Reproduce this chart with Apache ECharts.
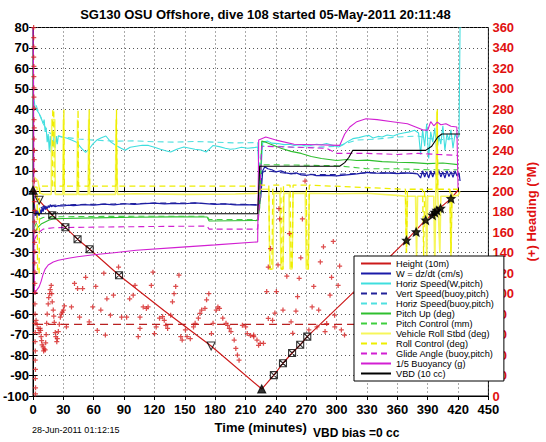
<!DOCTYPE html>
<html><head><meta charset="utf-8">
<script src="https://cdn.jsdelivr.net/npm/echarts@6/dist/echarts.min.js"></script>
<style>html,body{margin:0;padding:0;background:#fff}#c{width:546px;height:442px}</style>
</head><body><div id="c"></div>
<script>
const titleText = 'SG130 OSU Offshore, dive 108 started 05-May-2011 20:11:48';
const stampText = '28-Jun-2011 01:12:15';
const biasText = 'VBD bias =0 cc';
const legendNames = ['Height (10m)','W = dz/dt (cm/s)','Horiz Speed(W,pitch)','Vert Speed(buoy,pitch)','Horiz Speed(buoy,pitch)','Pitch Up (deg)','Pitch Control (mm)','Vehicle Roll Stbd (deg)','Roll Control (deg)','Glide Angle (buoy,pitch)','1/5 Buoyancy (g)','VBD (10 cc)'];

// [time (min), value]
const height10m = [[0,0],[6,-4.4],[19,-11.7],[32,-17.6],[44,-23.4],[56,-28.3],[85,-41],[130,-58.5],[176,-75.6],[226,-96.6],[238,-89.8],[247,-84],[256,-79],[264,-75],[271,-71],[330,-43],[369,-24],[388,-14],[413,-3.6],[420,0.5]];
const markFilledTri = [[0,0.5],[226,-96.6]];
const markOpenTri = [[6,-4.4],[176,-75.6]];
const markCrossBox = [[19,-11.7],[32,-17.6],[44,-23.4],[56,-28.3],[85,-41],[238,-89.8],[247,-84],[256,-79],[264,-75],[271,-71]];
const markStar = [[369,-24],[378.6,-19.9],[388,-14.1],[394.7,-11.7],[397,-10.4],[399,-9.4],[402.7,-8.4],[413,-3.6]];

const wSpeed = [[0,0],[1,-3],[2,-12],[3,-9],[4,-13],[5,-10],[6,-12],[7,-9],[8,-11],[9,-8],[10,-10],[11,-7],[12,-9],[13,-7.5],[14,-8.5],[15,-7],[16,-8],[17,-6.5],[18,-7.5],[20,-7],[22,-7.5],[25,-7],[30,-7.2],[35,-6.8],[40,-7],[50,-6.5],[60,-6.8],[70,-6.3],[80,-6.6],[90,-6.1],[100,-6.4],[110,-6],[120,-5.8],[130,-6.2],[140,-5.9],[150,-6.1],[160,-5.7],[170,-6],[180,-6.4],[190,-6.2],[200,-6.6],[210,-6.5],[220,-6.8],[223,-6.5],[225,-3],[227,10],[229,12],[232,11],[236,10.5],[240,9.5],[245,10],[250,9],[255,8.5],[260,9],[265,8],[270,7.8],[275,8.2],[280,7.6],[290,7.8],[300,7.5],[310,8],[320,8.5],[330,9.2],[340,8.8],[350,9],[360,8.6],[370,9],[380,8.5],[383,6.5],[385,10],[387,7],[389,9.5],[391,6.5],[393,10],[395,7],[397,9.8],[399,6.8],[401,10.2],[403,7],[405,9.5],[407,6.5],[409,10],[411,7.2],[413,9.6],[415,6.8],[417,10],[419,7.5],[421,9],[422,5]];
const horizSpeedW = [[1,45],[2,41],[4,39.5],[6,38],[8,36],[10,33],[11,35],[12,29],[13,31],[14,24],[15,28],[16,20],[17,27],[18,19],[19,25],[20,22],[21,28],[22,21],[23,27],[24,23],[25,27],[28,26.5],[33,26],[38,25],[43,24],[48,21],[52,19],[56,21],[59,23],[63,25],[67,26],[72,27],[77,24],[82,22.4],[87,21],[91,20],[96,21.5],[102,22],[108,22.5],[114,22.4],[120,21.5],[126,20.5],[131,19.8],[136,19.2],[142,20.5],[149,21.6],[155,21],[160,20.5],[166,20.2],[171,19.2],[175,21],[178,22.4],[184,21.8],[190,21],[195,20.5],[200,20.8],[206,21.5],[212,21],[218,21.3],[222,21.6],[223.5,8],[224.5,-3],[225.5,12],[227,24],[232,24.5],[236,23.5],[242,23.3],[248,22.8],[254,23],[258,22.4],[264,22.8],[270,22.1],[274,22.4],[280,23],[285,22.7],[290,23.3],[296,22.5],[302,21.6],[306,22.6],[310,24],[316,25.7],[322,26.2],[328,27],[332,27.3],[336,26],[341,26.8],[345,26.5],[350,27.5],[356,27],[361,28],[366,28.5],[372,29],[377,29.8],[381,28.5],[383,18],[385,30],[387,22],[389,33],[391,16],[393,29],[395,24],[397,31],[399,19],[401,27],[403,23],[405,32],[407,20],[409,28],[411,25],[413,30],[415,21],[417,28],[419,26],[421,27],[422,82]];
const vertSpeedBuoy = [[2,-12],[5,-9],[10,-7.5],[20,-6.8],[40,-6.5],[80,-6.2],[120,-5.8],[160,-5.8],[200,-6.3],[224,-6.5],[226,9],[230,10],[250,8.8],[280,8.2],[300,8.2],[330,9],[360,9],[390,8.6],[420,8.8]];
const horizSpeedBuoy = [[3,42],[6,38],[10,33],[15,29],[20,27.5],[30,26.5],[45,25.5],[60,25],[80,24.5],[100,24.6],[120,24.2],[140,24],[160,24.3],[180,24],[200,23.6],[222,23.8],[224,10],[226,22],[240,22],[260,21.5],[280,21.5],[300,22],[320,25],[340,25.5],[360,26.5],[380,27],[400,25],[420,26]];
const pitchUp = [[0,0],[1,-20],[3,-19],[5,-17.5],[8,-16],[12,-15],[16,-14],[20,-13.5],[30,-13.3],[60,-13],[100,-12.7],[140,-12.5],[172,-12.6],[174,-14.5],[222,-14.3],[224,-8],[226,24.5],[230,24],[235,23],[245,21],[255,19.5],[265,18.5],[275,17],[285,16],[300,15],[310,15.5],[320,15],[330,15.2],[345,14.5],[360,14.2],[375,14],[390,13.5],[405,13.8],[420,13]];
const pitchControl = [[1,-18],[5,-14],[10,-12.8],[20,-12.5],[60,-12.3],[120,-12.2],[172,-12.2],[174,-13.8],[222,-13.8],[224,13],[260,12.8],[300,12.5],[330,11],[360,11],[390,10.5],[420,10.5]];
const rollStbd = [[0,0],[1,7],[3,6],[5,5],[7,-1],[10,-1.5],[18,-1.5],[18.5,35],[21.5,35],[22,-1.5],[29.5,-1.5],[30,35],[31,-1.5],[43.5,-1.5],[44,35],[45,-1.5],[54.5,-1.5],[55,35],[56,-1.5],[81.5,-1.5],[82,35],[83.5,-1.5],[100,-1.2],[150,-1.5],[200,-1.3],[222,-1],[225,1],[233,1],[234,-38],[237,-38],[238,-1],[244,-1],[245,-38],[247,-38],[248,-1],[253,-1],[254,-38],[256,-38],[257,-1],[269,-1],[270,-38],[272,-38],[273,-1],[300,-1.2],[330,-1],[360,-2],[368,-2.4],[369,-30],[370,-2.4],[378,-2.4],[379,-32],[380,-2.4],[388,-2.4],[389,-34],[390,-2.4],[396,-2.4],[397,-36],[398,-2.4],[399,39],[400,-2.4],[402,-30],[403,-2.4],[412,-2.4],[413,-32],[414,-2.4],[420,-2],[422,0]];
const rollControl = [[1,2],[4,2],[4.5,-40],[6,-40],[6.5,2.5],[19,2.5],[19.5,40],[20.5,40],[21,2.5],[30,2.5],[30.5,40],[31,2.5],[44,2.5],[44.5,40],[45,2.5],[55,2.5],[55.5,40],[56,2.5],[82,2.5],[82.5,40],[83,2.5],[222,2.5],[224,3],[233,3],[234,-38],[236,-38],[237,3],[245,3],[245.5,-38],[247,-38],[247.5,3],[254,3],[255,-38],[256,-38],[257,3],[270,3],[271,-38],[272,-38],[273,3],[368,1],[369,-30],[370,1],[385,1],[386,-32],[387,1],[399,1],[399.5,40],[400,1],[412,1],[413,-30],[414,1],[420,1]];
const glideAngle = [[1,-24],[3,-22],[6,-20],[10,-18.5],[20,-17.8],[60,-17.5],[120,-17.2],[172,-17],[174,-18.5],[222,-18.5],[224,-5],[226,22],[260,21.5],[290,21],[300,18.5],[330,18.5],[360,18],[380,18.5],[400,18],[420,17.5]];
const buoyancy = [[0,85],[0.5,60],[1,-30],[1.5,-50],[2,-49.8],[4,-48],[6,-46.7],[8,-44],[10,-40.5],[12,-38],[15,-36],[20,-34.5],[25,-33.7],[35,-32.7],[44,-32],[60,-31],[80,-30],[102,-28.8],[140,-27.5],[180,-26.2],[222,-24.7],[223,25],[230,26.5],[240,25],[258,23],[280,22.7],[303,22.4],[308,28],[313,31.4],[320,34],[329,35.4],[340,35],[355,34],[370,33],[380,31],[385,30],[390,29.8],[393,34],[396,32],[399.5,33.8],[403,32.5],[408,33],[413,31.8],[418.8,31.4],[420,1.5]];
const vbd = [[0,0],[1,-11],[222,-11],[224,12.2],[303,12.2],[308,14],[312,16.5],[316,20],[388,20],[394,22],[400,26.5],[404,28],[422,28]];

// heading (deg, right axis)
const headingTarget = [[2,70],[420,70]];
const headingSurface = [[0.6,360],[0.7,350],[0.8,341],[0.7,331],[0.9,322],[0.8,312],[1.0,301],[0.9,292],[1.1,281],[1.0,270],[1.2,262],[1.1,251],[1.3,240],[1.2,231],[1.4,220],[1.3,210],[1.5,200],[1.4,190],[1.6,181],[1.5,170],[1.7,161],[1.6,150],[1.8,141],[1.7,130],[1.9,121],[1.8,110],[2.0,101],[1.9,90],[2.1,80],[2.0,71],[2.2,62],[2.1,53],[2.3,44],[2.2,35],[2.4,26],[2.3,17],[2.5,8],[2.4,2]];
const headingDive = [[3,74],[4,70],[5,66],[6,62],[7,66],[7.5,64],[8,58],[8.5,54],[9,50],[10,48],[10.5,44],[11,46],[12,45],[12.5,52],[13,60],[13.5,71],[14,80],[15,90],[15.5,96],[16.5,100],[17,104],[18,108],[18.5,100],[19,92],[20,84],[20.5,78],[21,72],[22,62],[22.5,58],[23.5,53],[24,56],[25,63],[26,70],[27,77],[28,80],[29,82],[30,84],[31,88],
[33,67.6],[38,87],[41,110],[44,105],[46,77],[49,105],[52,116],[55.5,72.5],[59,87],[62,107],[63.5,64],[67,84],[70,120],[71.5,59.5],[73,95],[76.5,79],[79.5,98.5],[84.5,126],[87.5,77],[92.5,77],[95.5,95],[99,98.5],[100.8,108],[104,58],[105.7,66],[105.7,77],[108.9,87],[112,85.5],[113.7,87],[116.9,108],[118.5,121],[120,61],[121.7,67.5],[125,76],[128,77.5],[129.7,74],[131.3,69],[133,66],[136,79],[137.8,92],[139.4,100],[141,107],[144.2,118],[146,58],[147.4,54.6],[150.6,64.5],[152.2,58],[155.4,56],[158.6,67.5],[160.2,71],[163.4,76],[165,80.6],[166.6,84],[169.9,85.5],[171.5,94],[173.7,100],[176.3,61],[177.9,71],[181.1,84],[182.7,87],[184.3,85.5],[187.5,76],[190.7,71],[192.4,69],[194,66],[195.6,63],[198.8,54.6],[200.4,46.5],[202,40],[203.6,35],[206.9,69],[210.1,67.5],[211.7,61],[214.9,59],[218,59.5],[218.1,58],[221.3,54.6],[222.9,49.5],[224.5,51.5],[227.7,51.5],[230.9,102],[232.5,126],[232.5,75.8],[234.7,144],[236.7,74],[239,81],[240.5,102],[242.1,128],[243,183],[243.7,173],[247,84],[250.8,117],[253.4,158.7],[255,72.5],[256.6,61.3],[259.8,83],[261.4,97],[263,115],[264.6,135],[266.2,173],[268.8,210],[272.6,64.5],[275.8,87],[277.4,107],[280.6,67.5],[282.3,84],[283.9,131],[287,145.7],[288.6,63],[290.2,70.8],[293.5,98.5],[295,116],[296.7,151],[298,79],[298.2,67.5],[301.5,108],[303,127],[304.7,64.5],[307.8,59.5]];

const FONT = 'Liberation Sans, Arial, Helvetica, sans-serif';
const PLUS = 'path://M3,0H5V3H8V5H5V8H3V5H0V3H3Z';
const CROSSBOX = 'path://M0,0L10,0L10,10L0,10Z M0,0L10,10 M10,0L0,10';
const OPENTRI = 'path://M0,0L10,0L5,9Z';
const STAR = 'path://M5,0L6.5,3.5L10,3.5L7.5,6L8.5,10L5,7.7L1.5,10L2.5,6L0,3.5L3.5,3.5Z';

function line(name, data, color, opts) {
  opts = opts || {};
  return {
    name: name, type: 'line', data: data, yAxisIndex: opts.y || 0,
    symbol: 'none', animation: false, z: opts.z || 2,
    lineStyle: { color: color, width: opts.w || 1.1, type: opts.dash ? [6,4] : 'solid' },
    itemStyle: { color: color }
  };
}
function marks(data, symbol, size, fill, stroke) {
  return { type: 'scatter', data: data, symbol: symbol, symbolSize: size, z: 6, animation: false,
    itemStyle: { color: fill, borderColor: stroke, borderWidth: 1.1 }, silent: true };
}

const chart = echarts.init(document.getElementById('c'), null, { renderer: 'svg' });
chart.setOption({
  animation: false,
  backgroundColor: '#fff',
  grid: { left: 32, right: 47, top: 27.5, bottom: 46, show: true, borderColor: '#000', borderWidth: 1, backgroundColor: '#fff' },
  legend: {
    data: legendNames, orient: 'vertical', left: 354, top: 256,
    itemWidth: 30, itemHeight: 10, itemGap: 1, padding: [3, 10, 3, 6],
    backgroundColor: '#fff', borderColor: '#000', borderWidth: 1,
    itemStyle: { color: 'rgba(0,0,0,0)', borderWidth: 0, opacity: 0 },
    lineStyle: { width: 2 },
    textStyle: { fontSize: 9.2, fontFamily: FONT, color: '#000' },
    selectedMode: false, z: 20
  },
  xAxis: [
    { type: 'value', min: 0, max: 450, interval: 30, position: 'bottom',
      axisLine: { show: true, lineStyle: { color: '#000' } },
      axisTick: { inside: true, length: 4, lineStyle: { color: '#000' } },
      axisLabel: { color: '#000', fontWeight: 'bold', fontSize: 13, fontFamily: FONT, margin: 7 },
      splitLine: { show: true, lineStyle: { color: '#555', type: [1, 3], width: 1 } },
      name: 'Time (minutes)', nameLocation: 'middle', nameGap: 19,
      nameTextStyle: { color: '#000', fontWeight: 'bold', fontSize: 13, fontFamily: FONT } },
    { type: 'value', min: 0, max: 450, interval: 30, position: 'top',
      axisLine: { show: true, lineStyle: { color: '#000' } },
      axisTick: { inside: true, length: 4, lineStyle: { color: '#000' } },
      axisLabel: { show: false }, splitLine: { show: false } }
  ],
  yAxis: [
    { type: 'value', min: -100, max: 80, interval: 10, position: 'left',
      axisLine: { show: true, lineStyle: { color: '#000' } },
      axisTick: { show: true, inside: true, length: 4, lineStyle: { color: '#000' } },
      axisLabel: { color: '#000', fontWeight: 'bold', fontSize: 13, fontFamily: FONT, margin: 4 },
      splitLine: { show: true, lineStyle: { color: '#555', type: [1, 3], width: 1 } } },
    { type: 'value', min: 0, max: 360, interval: 20, position: 'right',
      axisLine: { show: true, lineStyle: { color: '#000' } },
      axisTick: { show: true, inside: true, length: 4, lineStyle: { color: '#000' } },
      axisLabel: { color: '#e01010', fontWeight: 'bold', fontSize: 13, fontFamily: FONT, margin: 4 },
      splitLine: { show: false },
      name: '(+) Heading (°M)', nameLocation: 'middle', nameGap: 30, nameRotate: 90,
      nameTextStyle: { color: '#e01010', fontWeight: 'bold', fontSize: 13, fontFamily: FONT } }
  ],
  graphic: [
    { type: 'text', style: { text: titleText, x: 265.5, y: 14, textAlign: 'center', textVerticalAlign: 'middle', font: 'bold 13px ' + FONT, fill: '#000' } },
    { type: 'text', style: { text: stampText, x: 32, y: 430, textVerticalAlign: 'middle', font: '9px ' + FONT, fill: '#000' } },
    { type: 'text', style: { text: biasText, x: 313, y: 433, textVerticalAlign: 'middle', font: 'bold 12px ' + FONT, fill: '#000' } }
  ],
  series: [
    line('Height (10m)', height10m, '#cc1a1a', { w: 1.2 }),
    line('W = dz/dt (cm/s)', wSpeed, '#1a1aa8', { w: 1.2 }),
    line('Horiz Speed(W,pitch)', horizSpeedW, '#3fdede'),
    line('Vert Speed(buoy,pitch)', vertSpeedBuoy, '#22229a', { dash: true }),
    line('Horiz Speed(buoy,pitch)', horizSpeedBuoy, '#4fe0e0', { dash: true }),
    line('Pitch Up (deg)', pitchUp, '#2fbf2f'),
    line('Pitch Control (mm)', pitchControl, '#3fcf3f', { dash: true }),
    line('Vehicle Roll Stbd (deg)', rollStbd, '#f6f65a', { w: 1.6 }),
    line('Roll Control (deg)', rollControl, '#eeee00', { dash: true, w: 1.3 }),
    line('Glide Angle (buoy,pitch)', glideAngle, '#d21fd2', { dash: true }),
    line('1/5 Buoyancy (g)', buoyancy, '#d21fd2'),
    line('VBD (10 cc)', vbd, '#000000'),
    Object.assign(line('headingTarget', headingTarget, '#b82020', { y: 1, dash: true, w: 1.2 }), { lineStyle: { color: '#b82020', width: 1.2, type: [8, 5] } }),
    { type: 'scatter', yAxisIndex: 1, data: headingSurface, symbol: PLUS, symbolSize: 5, itemStyle: { color: '#d42020' }, z: 5, animation: false, silent: true },
    { type: 'scatter', yAxisIndex: 1, data: headingDive, symbol: PLUS, symbolSize: 5, itemStyle: { color: '#d42020' }, z: 5, animation: false, silent: true },
    marks(markFilledTri, 'triangle', 8, '#000', '#000'),
    marks(markOpenTri, OPENTRI, 8, 'rgba(255,255,255,0)', '#000'),
    marks(markCrossBox, CROSSBOX, 7, 'rgba(255,255,255,0)', '#000'),
    marks(markStar, STAR, 8, '#000', '#000')
  ]
});
</script></body></html>
